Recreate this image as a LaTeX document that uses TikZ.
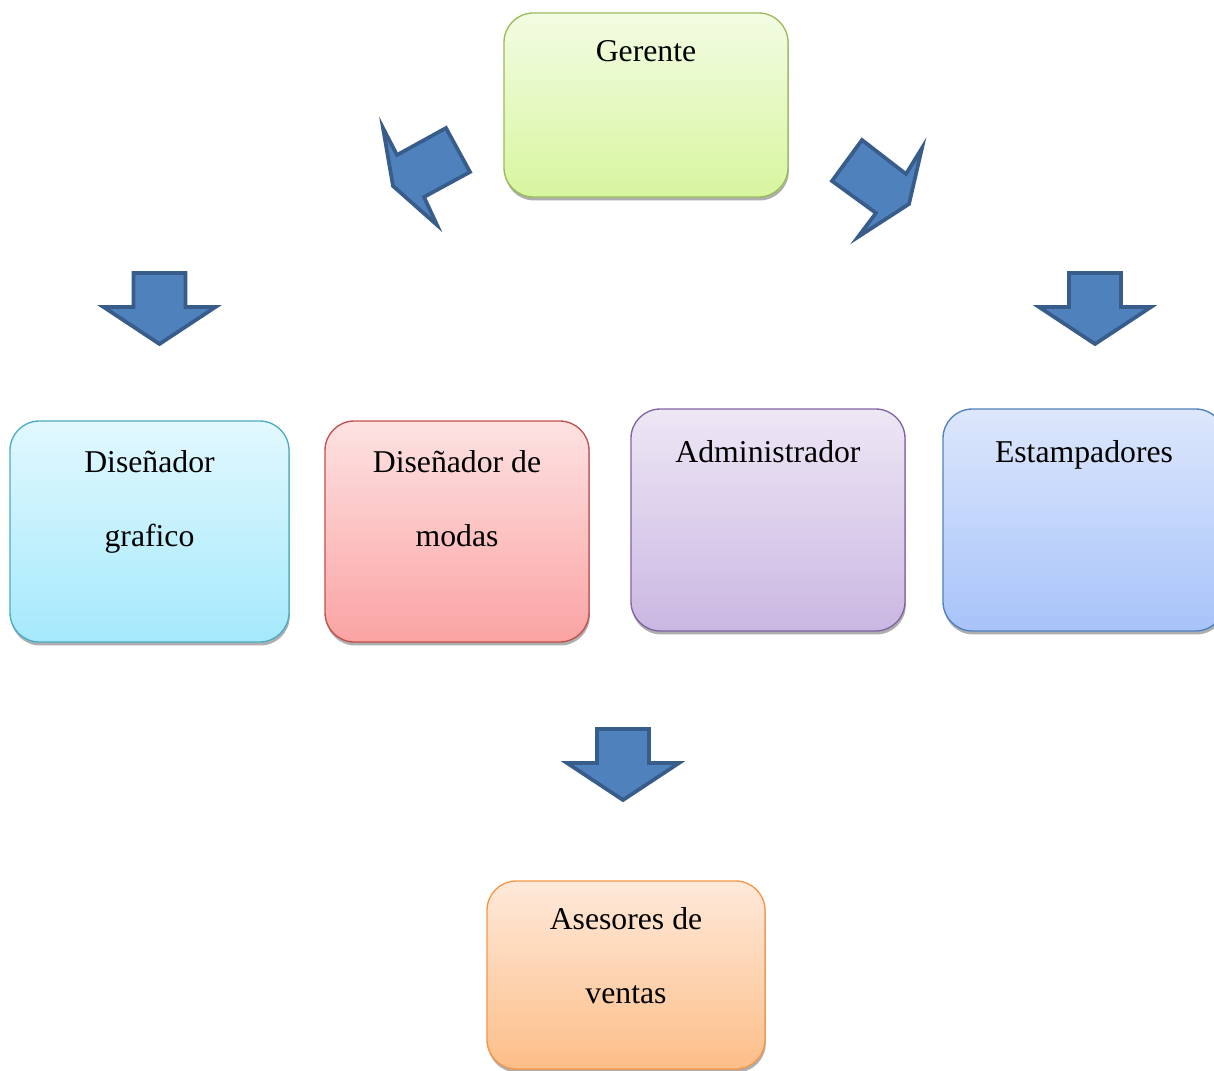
\documentclass[tikz,border=0pt]{standalone}
\usepackage{fontspec}
\setmainfont{Liberation Serif}
\usetikzlibrary{positioning,shadows}

\definecolor{arrfill}{HTML}{4F81BD}
\definecolor{arrline}{HTML}{385D8A}
\definecolor{gerTop}{HTML}{F3FCE3}\definecolor{gerBot}{HTML}{D7F59F}\definecolor{gerLine}{HTML}{9BBB59}
\definecolor{dgTop}{HTML}{E2F8FE}\definecolor{dgBot}{HTML}{A5E9FC}\definecolor{dgLine}{HTML}{4BACC6}
\definecolor{dmTop}{HTML}{FDE2E2}\definecolor{dmBot}{HTML}{FBA3A3}\definecolor{dmLine}{HTML}{C0504D}
\definecolor{admTop}{HTML}{EDE7F5}\definecolor{admBot}{HTML}{CBB7E2}\definecolor{admLine}{HTML}{8064A2}
\definecolor{estTop}{HTML}{DDE7FC}\definecolor{estBot}{HTML}{A7C3F9}\definecolor{estLine}{HTML}{4F81BD}
\definecolor{aseTop}{HTML}{FEE9DA}\definecolor{aseBot}{HTML}{FDBE88}\definecolor{aseLine}{HTML}{F79646}

\begin{document}
\begin{tikzpicture}[
  x=0.75pt,y=-0.75pt,
  box/.style={rectangle,draw,rounded corners=22pt,line width=1pt,
    drop shadow={shadow xshift=0.6pt,shadow yshift=-2.6pt,fill=black!45,opacity=0.7}},
  lbl/.style={anchor=north,align=center,inner sep=0pt,font=\fontsize{23.8pt}{55.5pt}\selectfont},
  blockarrow/.style={fill=arrfill,draw=arrline,line width=2.8pt,line join=miter},
  downarr/.pic={\draw[blockarrow] (-26,2) -- (26,2) -- (26,36) -- (56,36) -- (0,73) -- (-56,36) -- (-26,36) -- cycle;}
]
\useasboundingbox (0,0) rectangle (1214,1071);

% boxes
\node[box,top color=gerTop,bottom color=gerBot,draw=gerLine,minimum width=213pt,minimum height=138pt] (ger) at (646,105) {};
\node[box,top color=dgTop,bottom color=dgBot,draw=dgLine,minimum width=209.25pt,minimum height=165.75pt] (dg) at (149.5,531.5) {};
\node[box,top color=dmTop,bottom color=dmBot,draw=dmLine,minimum width=198pt,minimum height=165.75pt] (dm) at (457,531.5) {};
\node[box,top color=admTop,bottom color=admBot,draw=admLine,minimum width=205.5pt,minimum height=166.5pt] (adm) at (768,520) {};
\node[box,top color=estTop,bottom color=estBot,draw=estLine,minimum width=211.5pt,minimum height=166.5pt] (est) at (1084,520) {};
\node[box,top color=aseTop,bottom color=aseBot,draw=aseLine,minimum width=208.5pt,minimum height=141pt] (ase) at (626,975) {};

% texts
\node[lbl,below=21pt of ger.north] (gerT) {Gerente};
\node[lbl,below=22.5pt of dg.north] (dgT) {Diseñador\\grafico};
\node[lbl,below=22.5pt of dm.north] (dmT) {Diseñador de\\modas};
\node[lbl,below=24pt of adm.north] (admT) {Administrador};
\node[lbl,below=24pt of est.north] (estT) {Estampadores};
\node[lbl,below=20.25pt of ase.north] (aseT) {Asesores de\\ventas};

% block arrows
\draw[blockarrow] (383,128) -- (397,155) -- (446,128) -- (470,172) -- (424,197) -- (437,225) -- (393,186) -- cycle;
\draw[blockarrow] (922,148) -- (906,174) -- (862,140) -- (832,181) -- (876,213) -- (858,237) -- (909,204) -- cycle;
\pic at (159.5,271) {downarr};
\pic at (1095,271) {downarr};
\pic at (623,727) {downarr};
\end{tikzpicture}
\end{document}
